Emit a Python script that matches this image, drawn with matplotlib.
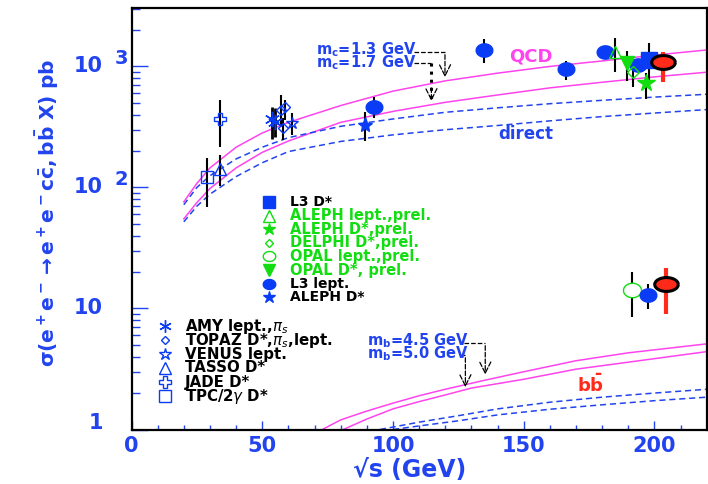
import numpy as np
import matplotlib
matplotlib.use('Agg')
import matplotlib.pyplot as plt
from matplotlib.ticker import LogLocator, NullFormatter, MultipleLocator

plt.rcParams['font.family'] = ['DejaVu Sans']
plt.rcParams['mathtext.fontset'] = 'dejavusans'

BLUE = '#2244ee'
PBLUE = '#0a3cf5'
GREEN = '#11dd11'
MAG = '#ff44ee'
RED = '#ff2a1a'

# ---- theory curves ----
qcd13_x = [20, 25, 30, 40, 50, 60, 80, 100, 120, 140, 160, 180, 200, 220]
qcd13_y = [76, 108, 145, 215, 282, 345, 475, 625, 760, 880, 1000, 1110, 1240, 1368]
qcd17_x = [20, 25, 30, 40, 50, 60, 80, 100, 120, 140, 160, 180, 200, 220]
qcd17_y = [55, 75, 98, 145, 195, 242, 345, 425, 505, 581, 665, 740, 820, 896]
dir13_x = [20, 25, 30, 40, 50, 60, 80, 100, 120, 140, 160, 180, 200, 220]
dir13_y = [72, 100, 125, 172, 215, 258, 320, 368, 418, 455, 492, 525, 558, 589]
dir17_x = [20, 25, 30, 40, 50, 60, 80, 100, 120, 140, 160, 180, 200, 220]
dir17_y = [52, 70, 88, 123, 160, 198, 240, 272, 300, 325, 355, 385, 412, 440]

qcdb45_x = [73, 80, 90, 100, 110, 120, 135, 150, 170, 190, 220]
qcdb45_y = [1.0, 1.2, 1.42, 1.65, 1.9, 2.15, 2.55, 3.0, 3.7, 4.3, 5.1]
qcdb50_x = [81, 90, 100, 110, 120, 130, 150, 170, 190, 220]
qcdb50_y = [1.0, 1.22, 1.48, 1.7, 1.93, 2.2, 2.6, 3.15, 3.6, 4.4]
dirb45_x = [95, 110, 125, 140, 160, 180, 200, 220]
dirb45_y = [1.0, 1.15, 1.3, 1.48, 1.68, 1.85, 2.0, 2.15]
dirb50_x = [100, 110, 125, 140, 160, 180, 200, 220]
dirb50_y = [1.0, 1.07, 1.18, 1.32, 1.47, 1.6, 1.73, 1.85]

# ---- measurements: x, y, low, high ----
tpc_x, tpc_y, tpc_lo, tpc_hi = [28.8], [122], [69], [174]
tasso_x, tasso_y, tasso_lo, tasso_hi = [34.0], [141], [102], [186]
jade_x, jade_y, jade_lo, jade_hi = [34.0], [368], [216], [528]
amy_x, amy_y, amy_lo, amy_hi = [53.6, 54.8], [368, 350], [252, 262], [462, 455]
topaz_x, topaz_y = [57.3, 58.7, 58.1], [440, 460, 309]
topaz_lo, topaz_hi = [328, 363, 247], [581, 525, 375]
venus_x, venus_y, venus_lo, venus_hi = [61.2], [343], [272], [413]
alephd_x, alephd_y, alephd_lo, alephd_hi = [89.4], [329], [242], [421]
l3l_x = [92.7, 135.0, 166.3, 181.1, 193.7]
l3l_y = [465, 1368, 953, 1310, 1029]
l3l_lo = [375, 1069, 773, 1175, 935]
l3l_hi = [560, 1686, 1109, 1449, 1124]
alephl_x, alephl_y, alephl_lo, alephl_hi = [184.9], [1310], [906], [1711]
opald_x, opald_y, opald_lo, opald_hi = [189.6], [1063], [759], [1343]
delphi_x, delphi_y, delphi_lo, delphi_hi = [191.8], [906], [681], [1063]
alephdp_x, alephdp_y, alephdp_lo, alephdp_hi = [196.9], [726], [536], [889]
l3d_x, l3d_y, l3d_lo, l3d_hi = [197.9], [1132], [776], [1574]
red_x, red_y, red_lo, red_hi = [203.4, 204.3], [1083, 15.8], [749, 9.0], [1325, 21.6]
opall_x, opall_y, opall_lo, opall_hi = [191.3], [14.2], [8.5], [20.0]
l3bb_x, l3bb_y, l3bb_lo, l3bb_hi = [197.6], [12.9], [9.9], [15.9]

t = np.linspace(0, 2 * np.pi, 40)
ELL = list(zip(1.25 * np.cos(t), np.sin(t)))
ELLW = list(zip(1.7 * np.cos(t), np.sin(t)))
ASTER = (6, 2, 0)

fig = plt.figure(figsize=(7.08, 4.84), dpi=100)
ax = fig.add_axes([131.5 / 708, 1 - 429.5 / 484, 575.2 / 708, 421.5 / 484])
ax.set_yscale('log')
ax.set_xlim(0, 220)
ax.set_ylim(1, 3040)

# curves
for cx, cy in [(qcd13_x, qcd13_y), (qcd17_x, qcd17_y), (qcdb45_x, qcdb45_y), (qcdb50_x, qcdb50_y)]:
    ax.plot(cx, cy, color=MAG, lw=1.1)
for cx, cy in [(dir13_x, dir13_y), (dir17_x, dir17_y), (dirb45_x, dirb45_y), (dirb50_x, dirb50_y)]:
    ax.plot(cx, cy, color=BLUE, lw=1.1, dashes=(4, 2.5))


def pts(x, y, lo, hi, marker, ms, fc, ec, ecol='k', elw=1.5, mew=1.0):
    y = np.array(y)
    err = [y - np.array(lo), np.array(hi) - y]
    ax.errorbar(x, y, yerr=err, fmt='none', ecolor=ecol, elinewidth=elw, capsize=0, zorder=3)
    ax.plot(x, y, ls='none', marker=marker, ms=ms, mfc=fc, mec=ec, mew=mew, zorder=4)


pts(tpc_x, tpc_y, tpc_lo, tpc_hi, 's', 8, 'none', PBLUE)
pts(tasso_x, tasso_y, tasso_lo, tasso_hi, '^', 8, 'none', PBLUE)
pts(jade_x, jade_y, jade_lo, jade_hi, 'P', 8, 'none', PBLUE)
pts(amy_x, amy_y, amy_lo, amy_hi, ASTER, 11, PBLUE, PBLUE, elw=2)
pts(topaz_x, topaz_y, topaz_lo, topaz_hi, 'D', 5, 'none', PBLUE)
pts(venus_x, venus_y, venus_lo, venus_hi, '*', 9, 'none', PBLUE)
pts(alephd_x, alephd_y, alephd_lo, alephd_hi, '*', 11, PBLUE, PBLUE)
pts(l3l_x, l3l_y, l3l_lo, l3l_hi, ELL, 12, PBLUE, PBLUE)
pts(alephl_x, alephl_y, alephl_lo, alephl_hi, '^', 9, 'none', GREEN)
pts(opald_x, opald_y, opald_lo, opald_hi, 'v', 10, GREEN, GREEN)
pts(delphi_x, delphi_y, delphi_lo, delphi_hi, 'D', 6, 'none', GREEN)
pts(alephdp_x, alephdp_y, alephdp_lo, alephdp_hi, '*', 13, GREEN, GREEN)
pts(l3d_x, l3d_y, l3d_lo, l3d_hi, 's', 11, PBLUE, PBLUE)
pts(opall_x, opall_y, opall_lo, opall_hi, ELL, 13, 'white', GREEN)
pts(l3bb_x, l3bb_y, l3bb_lo, l3bb_hi, ELL, 12, PBLUE, PBLUE)
pts(red_x, red_y, red_lo, red_hi, ELLW, 17, RED, 'k', ecol=RED, elw=3, mew=2.2)

# mass annotations
HEAD = '->,head_width=0.4,head_length=0.8'
ax.text(70.4, 1368, r'm$_\mathbf{c}$=1.3 GeV', color=BLUE, fontsize=10.5, fontweight='bold', va='center')
ax.text(70.4, 1069, r'm$_\mathbf{c}$=1.7 GeV', color=BLUE, fontsize=10.5, fontweight='bold', va='center')
ax.plot([108.2, 119.9], [1318, 1318], color='k', lw=0.9, ls='--')
ax.annotate('', xy=(119.9, 773), xytext=(119.9, 1318),
            arrowprops=dict(arrowstyle=HEAD, ls='--', color='k', lw=0.9))
ax.plot([108.2, 114.7], [1063, 1063], color='k', lw=0.9, ls='--')
ax.plot([114.7, 114.7], [1063, 540], color='k', lw=2.2, ls=':')
ax.annotate('', xy=(114.7, 490), xytext=(114.7, 700),
            arrowprops=dict(arrowstyle=HEAD, ls='--', color='k', lw=0.9))

ax.text(89.9, 5.4, r'm$_\mathbf{b}$=4.5 GeV', color=BLUE, fontsize=10.5, fontweight='bold', va='center')
ax.text(89.9, 4.25, r'm$_\mathbf{b}$=5.0 GeV', color=BLUE, fontsize=10.5, fontweight='bold', va='center')
ax.plot([127.3, 135.3], [5.19, 5.19], color='k', lw=0.9, ls='--')
ax.annotate('', xy=(135.3, 2.70), xytext=(135.3, 5.19),
            arrowprops=dict(arrowstyle=HEAD, ls='--', color='k', lw=0.9))
ax.plot([126.5, 127.7], [4.13, 4.13], color='k', lw=0.9, ls='--')
ax.annotate('', xy=(127.7, 2.12), xytext=(127.7, 4.13),
            arrowprops=dict(arrowstyle=HEAD, ls='--', color='k', lw=0.9))

ax.text(152.9, 1198, 'QCD', color=MAG, fontsize=13, fontweight='bold', ha='center', va='center')
ax.text(150.9, 277, 'direct', color=BLUE, fontsize=12, fontweight='bold', ha='center', va='center')
ax.text(175.4, 2.33, r'$\mathbf{b\bar{b}}$', color=RED, fontsize=13, ha='center', va='center')


# legends drawn by hand (pixel rows of the reference)
def px_ax(px, py):
    return (px - 131.5) / 575.2, (429.5 - py) / 421.5


leg1_labels = ['L3 D*', 'ALEPH lept.,prel.', 'ALEPH D*,prel.', 'DELPHI D*,prel.',
               'OPAL lept.,prel.', 'OPAL D*, prel.', 'L3 lept.', 'ALEPH D*']
leg1_tcol = ['k', GREEN, GREEN, GREEN, GREEN, GREEN, 'k', 'k']
leg1_mk = [('s', 8, PBLUE, PBLUE), ('^', 8, 'none', GREEN), ('*', 9, GREEN, GREEN), ('D', 4.5, 'none', GREEN),
           (ELL, 9, 'none', GREEN), ('v', 9, GREEN, GREEN), (ELL, 9, PBLUE, PBLUE), ('*', 9, PBLUE, PBLUE)]
for i, lab in enumerate(leg1_labels):
    py = 202 + i * 13.6
    mx, my = px_ax(269.3, py)
    tx, ty = px_ax(290, py)
    m, ms, fc, ec = leg1_mk[i]
    fs = 10 if leg1_tcol[i] == 'k' else 10.5
    ax.plot([mx], [my], transform=ax.transAxes, marker=m, ms=ms, mfc=fc, mec=ec, ls='none', clip_on=False)
    ax.text(tx, ty, lab, transform=ax.transAxes, color=leg1_tcol[i], fontsize=fs, fontweight='bold', va='center')

leg2_labels = ['AMY lept.,$\\pi_s$', 'TOPAZ D*,$\\pi_s$,lept.', 'VENUS lept.', 'TASSO D*',
               'JADE D*', 'TPC/2$\\gamma$ D*']
leg2_mk = [(ASTER, 9), ('D', 4.5), ('*', 9), ('^', 8), ('P', 8), ('s', 8)]
for i, lab in enumerate(leg2_labels):
    py = 326 + i * 14
    mx, my = px_ax(165, py)
    tx, ty = px_ax(185, py)
    m, ms = leg2_mk[i]
    ax.plot([mx], [my], transform=ax.transAxes, marker=m, ms=ms, mfc='none', mec=PBLUE, ls='none', clip_on=False)
    ax.text(tx, ty, lab, transform=ax.transAxes, color='k', fontsize=10.8, fontweight='bold', va='center')

# axes styling
for sp in ax.spines.values():
    sp.set_linewidth(1.6)
ax.set_xticks([0, 50, 100, 150, 200])
ax.xaxis.set_minor_locator(MultipleLocator(10))
ax.yaxis.set_major_locator(LogLocator(base=10, numticks=10))
ax.yaxis.set_minor_locator(LogLocator(base=10, subs=np.arange(2, 10), numticks=20))
ax.yaxis.set_minor_formatter(NullFormatter())
ax.tick_params(axis='both', which='both', direction='in', color=BLUE, width=1)
ax.tick_params(axis='y', which='major', length=11.5, labelleft=False)
ax.tick_params(axis='y', which='minor', length=5.8)
ax.tick_params(axis='x', which='major', length=6.5, labelsize=15, labelcolor=BLUE, pad=5)
ax.tick_params(axis='x', which='minor', length=3.6)
for lab in ax.get_xticklabels():
    lab.set_fontweight('bold')

ytr = ax.get_yaxis_transform()
for v, s, dy in [(1, '1', 4.5), (10, '10', 0), (100, '10', 0), (1000, '10', 0)]:
    ax.annotate(s, xy=(-0.0495, v), xycoords=ytr, xytext=(0, dy), textcoords='offset points',
                ha='right', va='center', color=BLUE, fontsize=15, fontweight='bold')
for v, s in [(100, '2'), (1000, '3')]:
    ax.annotate(s, xy=(-0.0287, v), xycoords=ytr, xytext=(0, 6), textcoords='offset points',
                ha='left', va='center', color=BLUE, fontsize=14, fontweight='bold')

ax.set_ylabel(r'$\mathbf{\sigma(e^+e^- \rightarrow e^+e^- c\bar{c},b\bar{b}\ X)\ pb}$', color=BLUE, fontsize=14.5)
ax.yaxis.label.set_va('center')
ax.yaxis.set_label_coords(-0.147, 0.514)
ax.set_xlabel('√s (GeV)', color=BLUE, fontsize=17, fontweight='bold')
ax.xaxis.label.set_va('center')
ax.xaxis.set_label_coords((410 - 131.5) / 575.2, -0.095)

fig.savefig('out.png', dpi=100)
